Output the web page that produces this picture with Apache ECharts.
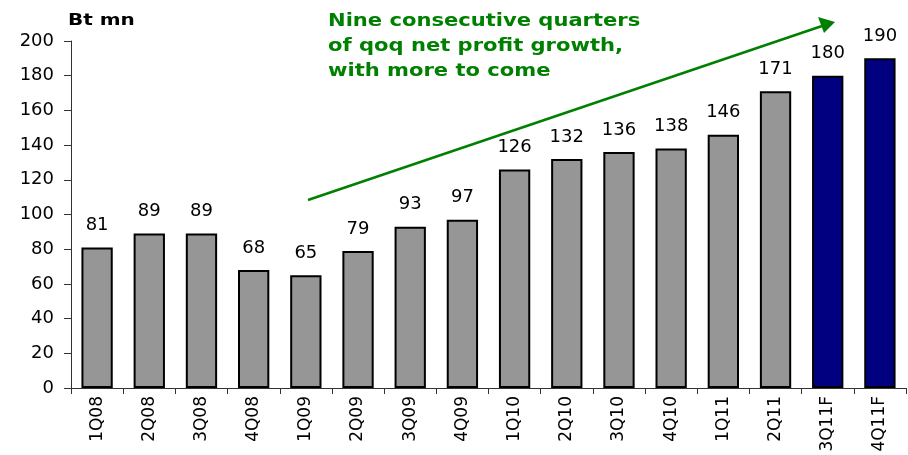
<!DOCTYPE html>
<html>
<head>
    <meta charset="UTF-8">
    <script src="https://cdn.jsdelivr.net/npm/echarts@6/dist/echarts.min.js"></script>
</head>
<style type="text/css">
    html, body { height: 100%; width: 100%; margin: 0; padding: 0; background: #fff; }
    #main { width: 908px; height: 455px; }
</style>
<body>
    <div id="main"></div>
</body>
<script>
    var quarters = ['1Q08','2Q08','3Q08','4Q08','1Q09','2Q09','3Q09','4Q09','1Q10','2Q10','3Q10','4Q10','1Q11','2Q11','3Q11F','4Q11F'];
    var profit = [81, 89, 89, 68, 65, 79, 93, 97, 126, 132, 136, 138, 146, 171, 180, 190];
    var forecast = [false,false,false,false,false,false,false,false,false,false,false,false,false,false,true,true];

    var myChart = echarts.init(document.getElementById('main'));

    var barData = [];
    for (var i = 0; i < profit.length; i++) {
        barData.push({
            value: profit[i],
            itemStyle: { color: forecast[i] ? '#000080' : '#969696' }
        });
    }

    var option = {
        animation: false,
        grid: { left: 71, right: 2, top: 41, bottom: 67 },
        xAxis: {
            type: 'category',
            data: quarters,
            axisLine: { lineStyle: { color: '#333', width: 1 } },
            axisTick: { show: true, length: 6, lineStyle: { color: '#333' } },
            axisLabel: {
                rotate: 90, color: '#000', fontSize: 17,
                fontFamily: 'DejaVu Sans', margin: 8
            }
        },
        yAxis: {
            type: 'value',
            min: 0, max: 200, interval: 20,
            splitLine: { show: false },
            axisLine: { show: true, lineStyle: { color: '#333', width: 1 } },
            axisTick: { show: true, length: 7, lineStyle: { color: '#333' } },
            axisLabel: { color: '#000', fontSize: 18, fontFamily: 'DejaVu Sans', margin: 17 }
        },
        series: [{
            type: 'bar',
            data: barData,
            barCategoryGap: '40%',
            itemStyle: { borderColor: '#000', borderWidth: 2 },
            label: {
                show: true, position: 'top', distance: 13,
                color: '#000', fontSize: 18, fontFamily: 'DejaVu Sans'
            }
        }],
        graphic: [
            {
                type: 'text', x: 68, y: 13, scaleX: 1.25,
                style: { text: 'Bt mn', font: 'bold 16px DejaVu Sans', fill: '#000' }
            },
            {
                type: 'text', x: 328, y: 9, scaleX: 1.17,
                style: {
                    text: 'Nine consecutive quarters\nof qoq net profit growth,\nwith more to come',
                    font: 'bold 18px DejaVu Sans', fill: '#008000', lineHeight: 25
                }
            },
            {
                type: 'line',
                shape: { x1: 308, y1: 200, x2: 822, y2: 26 },
                style: { stroke: '#008000', lineWidth: 2.5 }
            },
            {
                type: 'polygon',
                shape: { points: [[835, 22], [818, 17], [824, 33]] },
                style: { fill: '#008000' }
            }
        ]
    };
    myChart.setOption(option);
</script>
</html>
